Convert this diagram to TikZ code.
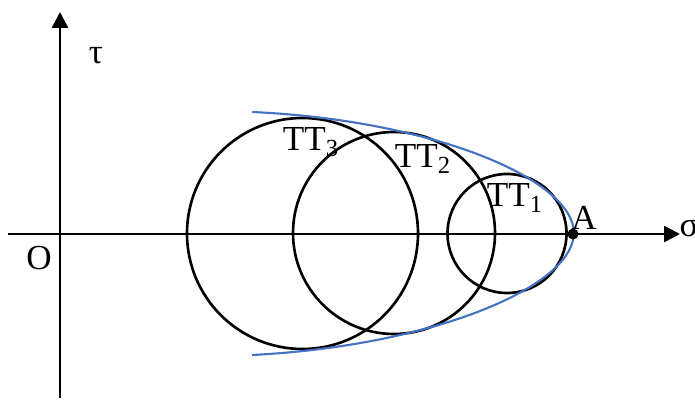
\documentclass[tikz,border=0pt]{standalone}
\usepackage{fontspec}
\setmainfont{Liberation Serif}
\usepackage{tikz}
\usetikzlibrary{arrows.meta}
\definecolor{envblue}{RGB}{68, 114, 196}

\begin{document}
\begin{tikzpicture}[
  x=0.02cm, y=-0.02cm,
  every node/.style={font=\fontsize{20}{24}\selectfont},
  axis/.style={line width=1.5pt, -{Triangle[length=0.32cm, width=0.32cm]}},
  mohr/.style={line width=1.5pt},
  envelope/.style={draw=envblue, line width=1.2pt},
  pt/.style={circle, fill=black, inner sep=0pt, minimum size=0.22cm},
  lbl/.style={inner sep=1pt}
]
  \useasboundingbox (0,0) rectangle (695,401);

  % axes
  \coordinate (xs) at (8,234);
  \coordinate (xe) at (680,234);
  \coordinate (ys) at (60,398);
  \coordinate (ye) at (60,12);
  \draw[axis] (xs) -- (xe);
  \draw[axis] (ys) -- (ye);

  % Mohr circles
  \coordinate (c3) at (302.5,233.5);
  \coordinate (c2) at (394,233);
  \coordinate (c1) at (507,233.5);
  \draw[mohr] (c3) circle[radius=115.5];
  \draw[mohr] (c2) circle[radius=101];
  \draw[mohr] (c1) circle[radius=59.5];

  % envelope
  \draw[envelope] (252,112) .. controls (430,120) and (573,178) .. (574,233)
                  .. controls (573,288) and (430,346) .. (252,355);

  \node[pt] (A) at (573,234) {};

  \node[lbl] (tau) at (96,56) {τ};
  \node[lbl] (sig) at (689,228) {σ};
  \node[lbl] (O) at (39,258) {O};
  \node[lbl] (Alab) at (584,218) {A};
  \node[lbl] (tt3) at (311,142) {TT\textsubscript{3}};
  \node[lbl] (tt2) at (423,159) {TT\textsubscript{2}};
  \node[lbl] (tt1) at (515,198) {TT\textsubscript{1}};
\end{tikzpicture}
\end{document}
